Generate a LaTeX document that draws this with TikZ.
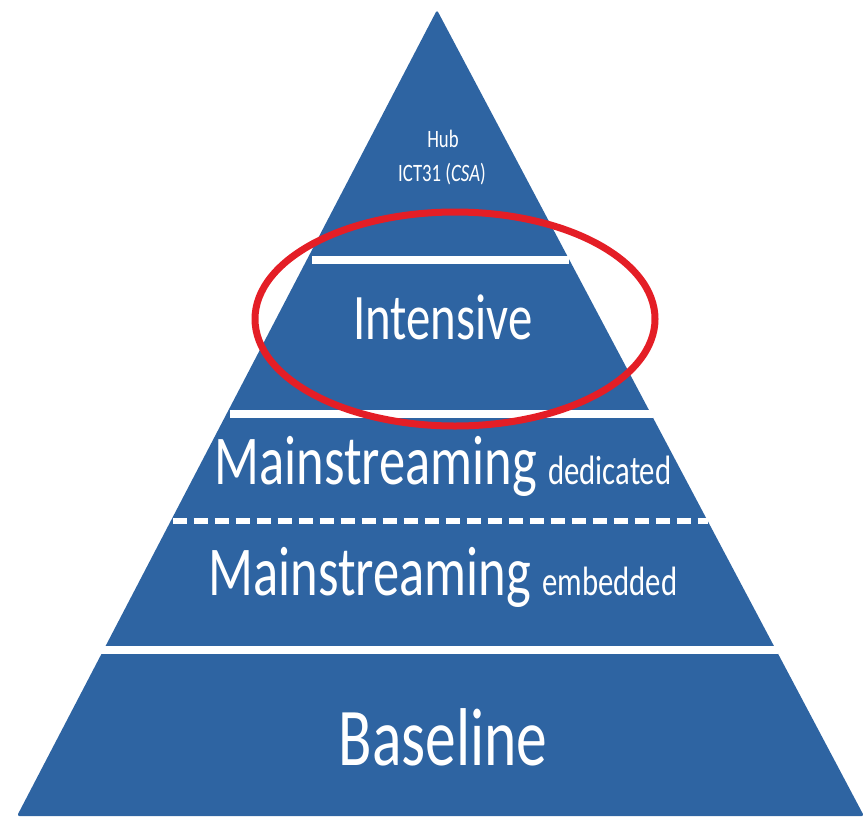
\documentclass[tikz,border=0pt]{standalone}
\usepackage{fontspec}
\setmainfont{Carlito}
\usetikzlibrary{calc}
\definecolor{pyrblue}{HTML}{2E64A2}
\definecolor{ringred}{HTML}{E41E26}
\newcommand{\narrow}[1]{\scalebox{0.75}[1]{#1}}
\begin{document}
\begin{tikzpicture}[x=1pt,y=-1pt,
  layerline/.style={white,line width=8.5pt},
  splitline/.style={white,line width=6pt,dash pattern=on 14pt off 7pt},
  lbl/.style={text=white,inner sep=0pt,anchor=base}]
\useasboundingbox (0,0) rectangle (866,822);

% pyramid outline
\coordinate (apex) at (437,10);
\coordinate (bl) at (17,816);
\coordinate (br) at (864,816);
\fill[pyrblue,rounded corners=2.5pt] (apex) -- (br) -- (bl) -- cycle;

% layer separators
\coordinate (s1l) at ($(apex)!0.310!(bl)+(5,0)$);
\coordinate (s1r) at ($(apex)!0.310!(br)$);
\coordinate (s2l) at ($(apex)!0.501!(bl)+(3,0)$);
\coordinate (s2r) at ($(apex)!0.501!(br)+(2,0)$);
\coordinate (s3l) at ($(apex)!0.634!(bl)+(2,0)$);
\coordinate (s3r) at ($(apex)!0.634!(br)$);
\coordinate (s4l) at ($(apex)!0.794!(bl)+(-3,0)$);
\coordinate (s4r) at ($(apex)!0.794!(br)+(2,0)$);
\draw[layerline] (s1l) -- (s1r);
\draw[layerline] (s2l) -- (s2r);
\draw[splitline] (s3l) -- (s3r);
\draw[layerline] (s4l) -- (s4r);

% layer labels
\node[lbl] (hub) at (443,147) {\fontsize{25}{25}\selectfont\narrow{Hub}};
\node[lbl] (ict) at (442,181) {\fontsize{25}{25}\selectfont\narrow{ICT31 (\textit{CSA})}};
\node[lbl] (intensive) at (443,339) {\fontsize{65}{65}\selectfont\narrow{Intensive}};
\node[lbl] (dedicated) at (443,484) {\narrow{\fontsize{70}{70}\selectfont Mainstreaming\hspace{15pt}\fontsize{41}{41}\selectfont dedicated}};
\node[lbl] (embedded) at (443,595) {\narrow{\fontsize{70}{70}\selectfont Mainstreaming\hspace{15pt}\fontsize{41}{41}\selectfont embedded}};
\node[lbl] (baseline) at (443,765) {\fontsize{82}{82}\selectfont\narrow{Baseline}};

% highlight ring
\draw[ringred,line width=7pt] (455,319) ellipse [x radius=200,y radius=107];
\end{tikzpicture}
\end{document}
